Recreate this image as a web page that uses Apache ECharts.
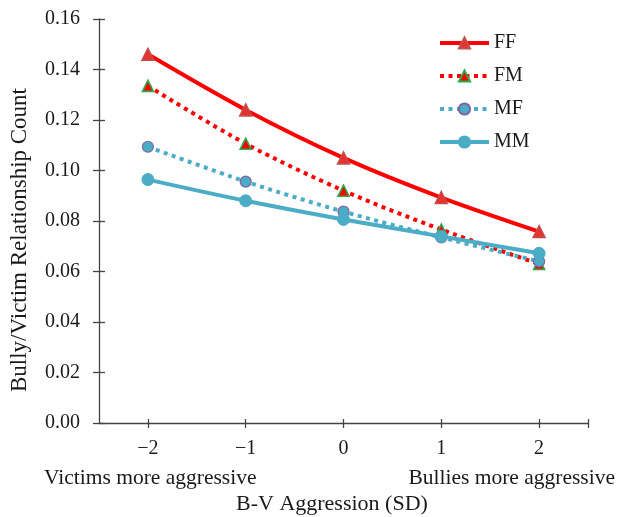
<!DOCTYPE html>
<html><head><meta charset="utf-8">
<script src="https://cdn.jsdelivr.net/npm/echarts@6/dist/echarts.min.js"></script>
<style>html,body{margin:0;padding:0;background:#fff}#c{width:619px;height:517px}</style>
</head><body><div id="c"></div>
<script>
const xValues = [-2, -1, 0, 1, 2];
const xTickLabels = ['\u22122', '\u22121', '0', '1', '2'];
const seriesNames = ['FF', 'FM', 'MF', 'MM'];
const ff = [0.146, 0.124, 0.105, 0.0893, 0.0758];
const fm = [0.1335, 0.1106, 0.092, 0.0766, 0.063];
const mf = [0.1094, 0.0956, 0.0837, 0.0735, 0.064];
const mm = [0.0964, 0.088, 0.0806, 0.0739, 0.0672];

const font = 'Liberation Serif';
const txt = '#1a1a1a';
const axisCol = '#444';
const pairs = arr => xValues.map((x, i) => [x, arr[i]]);
const xTicks = xValues.concat([2.5]);
const chart = echarts.init(document.getElementById('c'));
const baseX = {
  type: 'value', min: -2.5, max: 2.5, position: 'bottom',
  splitLine: { show: false }
};
const baseY = {
  type: 'value', min: 0, max: 0.16, interval: 0.02, position: 'left',
  splitLine: { show: false }
};
chart.setOption({
  animation: false,
  backgroundColor: '#fff',
  textStyle: { fontFamily: font },
  grid: { left: 96, right: 31, top: 19, bottom: 94 },
  legend: {
    orient: 'vertical', left: 433, top: 28, itemWidth: 49, itemHeight: 14, itemGap: 13,
    textStyle: { fontFamily: font, fontSize: 20, color: txt },
    lineStyle: { width: 4 },
    data: seriesNames
  },
  xAxis: [Object.assign({}, baseX, {
    axisLine: { onZero: false, lineStyle: { color: axisCol, width: 1.3 } },
    axisTick: { show: true, length: 5, lineStyle: { color: axisCol, width: 1.3 }, customValues: xTicks },
    axisLabel: {
      customValues: xValues, fontFamily: font, fontSize: 20, color: txt, margin: 16,
      formatter: v => xTickLabels[xValues.indexOf(Math.round(v))]
    }
  }), Object.assign({}, baseX, {
    axisLine: { show: false, onZero: false },
    axisTick: { show: true, inside: true, length: 4, lineStyle: { color: axisCol, width: 1.3 }, customValues: xTicks },
    axisLabel: { show: false }
  })],
  yAxis: [Object.assign({}, baseY, {
    name: 'Bully/Victim Relationship Count', nameLocation: 'middle', nameGap: 68,
    nameTextStyle: { fontFamily: font, fontSize: 23, color: txt, padding: [0, 38, 0, 0] },
    axisLine: { show: true, onZero: false, lineStyle: { color: axisCol, width: 1.3 } },
    axisTick: { show: true, length: 6, lineStyle: { color: axisCol, width: 1.3 } },
    axisLabel: { fontFamily: font, fontSize: 20, color: txt, margin: 19, formatter: v => v.toFixed(2) }
  }), Object.assign({}, baseY, {
    axisLine: { show: false, onZero: false },
    axisTick: { show: true, inside: true, length: 6, lineStyle: { color: axisCol, width: 1.3 } },
    axisLabel: { show: false }
  })],
  series: [
    { name: 'FF', type: 'line', data: pairs(ff), smooth: 0.3, symbol: 'triangle', symbolSize: 12,
      lineStyle: { color: '#ff0000', width: 4 },
      itemStyle: { color: '#e8302c', borderColor: '#c0504d', borderWidth: 1.5 } },
    { name: 'FM', type: 'line', data: pairs(fm), smooth: 0.3, symbol: 'triangle', symbolSize: 11,
      lineStyle: { color: '#ff0000', width: 4, type: [4, 4.5] },
      itemStyle: { color: '#ff0000', borderColor: '#2ea84a', borderWidth: 1.6 } },
    { name: 'MF', type: 'line', data: pairs(mf), smooth: 0.3, symbol: 'circle', symbolSize: 11,
      lineStyle: { color: '#4bacc6', width: 4, type: [4, 4.5] },
      itemStyle: { color: '#4bacc6', borderColor: '#8064a2', borderWidth: 1.2 } },
    { name: 'MM', type: 'line', data: pairs(mm), smooth: 0.3, symbol: 'circle', symbolSize: 12,
      lineStyle: { color: '#4bacc6', width: 4 },
      itemStyle: { color: '#4bacc6', borderColor: '#4bacc6', borderWidth: 1 } }
  ],
  graphic: [
    { type: 'text', left: 44, top: 467, style: { text: 'Victims more aggressive', fontFamily: font, fontSize: 21.5, fill: txt } },
    { type: 'text', right: 4, top: 467, style: { text: 'Bullies more aggressive', fontFamily: font, fontSize: 21.5, fill: txt } },
    { type: 'text', left: 236, top: 493, style: { text: 'B-V Aggression (SD)', fontFamily: font, fontSize: 22, fill: txt } }
  ]
});
</script></body></html>
